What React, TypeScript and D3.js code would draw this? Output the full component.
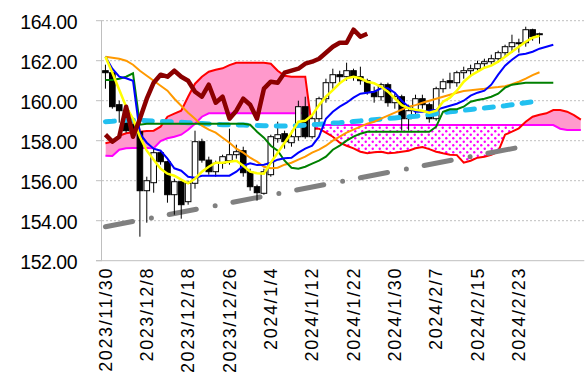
import React from "react";
import * as d3 from "d3";

// ---- categories / ticks ----
const N_SLOTS = 70; // trading-day slots on the x axis (incl. future cloud)
const tickIdx = [0, 6, 12, 18, 24, 30, 36, 42, 48, 54, 60];
const tickLabels = [
  "2023/11/30", "2023/12/8", "2023/12/18", "2023/12/26", "2024/1/4", "2024/1/12",
  "2024/1/22", "2024/1/30", "2024/2/7", "2024/2/15", "2024/2/23",
];
const yTicks = [152, 154, 156, 158, 160, 162, 164];

// ---- candles (index 0..63) ----
const open = [
  161.5, 161.4, 159.8, 159.5, 158.8, 158.45, 155.5, 155.9, 157.4, 156.95,
  155.3, 155.95, 154.95, 155.87, 157.95, 157.03, 156.45, 156.87, 157.0, 157.3,
  157.5, 156.45, 155.7, 155.37, 156.3, 158.1, 158.35, 157.9, 158.2, 159.7,
  158.2, 159.1, 160.1, 160.9, 161.3, 161.2, 161.5, 161.2, 161.0, 160.45,
  160.2, 160.8, 159.9, 160.2, 159.1, 159.5, 160.1, 159.8, 159.1, 160.6,
  161.0, 160.9, 161.4, 161.5, 161.6, 161.85, 161.95, 162.1, 162.4, 162.7,
  162.9, 162.9, 163.55, 163.3,
];
const high = [
  161.8, 161.5, 160.0, 159.6, 159.0, 158.6, 156.2, 157.6, 157.5, 157.0,
  156.1, 156.0, 156.0, 158.5, 158.1, 157.2, 157.0, 157.3, 158.6, 157.8,
  157.7, 156.6, 155.8, 156.6, 158.3, 158.95, 158.5, 158.5, 160.0, 160.2,
  159.3, 160.2, 161.1, 161.6, 161.5, 161.9, 161.6, 161.7, 161.1, 160.7,
  160.9, 160.9, 160.4, 160.3, 159.8, 160.3, 160.3, 159.9, 160.7, 161.1,
  161.4, 161.5, 161.7, 161.8, 162.0, 162.1, 162.3, 162.5, 162.8, 163.3,
  163.1, 163.7, 163.6, 163.4,
];
const low = [
  160.6, 159.6, 158.9, 158.4, 158.2, 153.2, 153.9, 155.4, 156.8, 154.9,
  154.3, 154.1, 154.8, 155.6, 156.9, 156.3, 156.2, 156.6, 156.8, 157.1,
  156.2, 155.5, 155.0, 155.3, 156.2, 157.9, 157.6, 157.7, 158.0, 158.1,
  158.1, 158.9, 159.9, 160.6, 160.9, 161.0, 161.0, 160.8, 160.3, 159.9,
  160.0, 159.7, 159.6, 158.5, 158.5, 159.3, 159.6, 158.9, 159.0, 160.4,
  160.6, 160.7, 161.1, 161.2, 161.4, 161.6, 161.8, 161.9, 162.2, 162.4,
  162.4, 162.7, 163.0, 162.85,
];
const close = [
  161.4, 159.7, 159.5, 158.5, 158.45, 155.5, 156.0, 157.4, 156.95, 155.3,
  155.95, 154.8, 155.87, 157.95, 157.03, 156.45, 156.87, 157.2, 157.3, 157.45,
  156.4, 155.7, 155.4, 156.45, 158.2, 158.3, 157.95, 158.2, 159.7, 158.2,
  159.1, 160.1, 160.9, 161.3, 161.2, 161.5, 161.2, 161.0, 160.45, 160.2,
  160.8, 159.9, 160.2, 159.1, 159.5, 160.1, 159.8, 159.1, 160.6, 160.95,
  160.9, 161.4, 161.5, 161.6, 161.85, 161.95, 162.1, 162.4, 162.7, 162.9,
  162.9, 163.55, 163.2, 163.35,
];
const CHIKOU_SHIFT = 25; // lagging span plotted 26 days back (incl. today)

// ---- lines ----
const ma5 = [ // yellow
  162.2, 161.4, 160.55, 159.7, 159.1, 158.2, 157.5, 157.05, 156.6, 156.35,
  156.25, 156.05, 155.87, 156.1, 156.45, 156.7, 156.9, 156.9, 156.95, 157.0,
  156.75, 156.45, 156.37, 156.35, 156.9, 157.4, 157.9, 158.4, 158.95, 159.0,
  159.28, 159.78, 160.2, 160.53, 160.87, 161.12, 161.2, 161.12, 160.95, 160.87,
  160.7, 160.45, 160.12, 159.78, 159.62, 159.55, 159.5, 159.4, 159.5, 159.95,
  160.15, 160.5, 160.95, 161.25, 161.45, 161.65, 161.75, 161.95, 162.2, 162.45,
  162.7, 162.95, 163.15, 163.25,
];
const tenkan = [ // blue
  162.2, 161.6, 161.2, 161.12, 161.0, 158.35, 157.9, 157.6, 157.5, 157.1,
  156.62, 156.5, 156.2, 156.15, 156.25, 156.25, 156.25, 156.25, 156.25, 156.45,
  156.75, 156.87, 156.78, 156.8, 156.9, 157.05, 157.12, 157.15, 157.4, 157.6,
  157.75, 158.2, 159.1, 159.45, 159.7, 159.9, 160.15, 160.35, 160.4, 160.45,
  160.62, 160.62, 160.4, 160.0, 159.7, 159.45, 159.45, 159.5, 159.55, 159.65,
  159.75, 159.85, 160.0, 160.25, 160.4, 160.5, 160.8, 161.3, 161.75, 162.05,
  162.3, 162.35, 162.45, 162.6, 162.7, 162.8,
];
const kijun = [ // green
  161.03, 161.03, 161.1, 161.2, 161.37, 158.8, 158.85, 158.85, 158.85, 158.85,
  158.85, 158.85, 158.85, 158.85, 158.85, 158.85, 158.85, 158.85, 158.85, 158.85,
  158.85, 158.8, 158.45, 158.15, 157.75, 157.5, 157.0, 156.65, 156.6, 156.7,
  156.85, 157.0, 157.2, 157.55, 157.75, 158.0, 158.2, 158.35, 158.45, 158.45,
  158.45, 158.45, 158.45, 158.45, 158.45, 158.45, 158.45, 158.45, 158.7, 159.45,
  159.57, 159.57, 159.7, 159.95, 160.03, 160.1, 160.2, 160.35, 160.65, 160.8,
  160.85, 160.9, 160.9, 160.9, 160.9, 160.9,
];
const ma25 = [ // orange
  162.2, 162.15, 162.1, 162.0, 161.8, 161.5, 161.25, 161.0, 160.75, 160.5,
  160.1, 159.75, 159.4, 159.1, 158.75, 158.55, 158.4, 158.15, 157.9, 157.6,
  157.4, 157.15, 156.95, 156.7, 156.62, 156.65, 156.8, 156.9, 157.05, 157.2,
  157.4, 157.55, 157.75, 158.0, 158.2, 158.4, 158.55, 158.7, 158.85, 158.95,
  159.1, 159.25, 159.4, 159.55, 159.7, 159.78, 159.9, 160.0, 160.1, 160.2,
  160.3, 160.4, 160.48, 160.52, 160.56, 160.6, 160.65, 160.68, 160.72, 160.82,
  160.95, 161.1, 161.28, 161.42,
];
const ma75 = [ // light blue dashed
  158.95, 158.97, 159.0, 159.02, 159.03, 159.02, 159.0, 158.98, 158.96, 158.95,
  158.94, 158.92, 158.9, 158.88, 158.86, 158.84, 158.82, 158.8, 158.8, 158.79,
  158.78, 158.77, 158.76, 158.75, 158.74, 158.73, 158.73, 158.74, 158.76, 158.78,
  158.8, 158.82, 158.85, 158.88, 158.9, 158.93, 158.96, 158.99, 159.02, 159.05,
  159.08, 159.11, 159.14, 159.17, 159.2, 159.22, 159.26, 159.3, 159.35, 159.4,
  159.45, 159.48, 159.52, 159.56, 159.6, 159.63, 159.67, 159.71, 159.75, 159.8,
  159.85, 159.9, 159.94, 159.97,
];
const spanA = [ // red (leading span 1), index 0..69
  157.87, 157.95, 158.25, 158.37, 158.42, 158.45, 158.48, 158.5, 158.7, 159.2,
  159.35, 159.5, 160.2, 160.85, 161.2, 161.45, 161.55, 161.62, 161.78, 161.9,
  161.9, 161.9, 161.9, 161.9, 161.85, 161.5, 161.25, 161.2, 161.2, 161.2,
  158.6, 158.6, 158.4, 158.2, 157.9, 157.75, 157.62, 157.45, 157.37, 157.42,
  157.45, 157.37, 157.4, 157.45, 157.5, 157.62, 157.68, 157.58, 157.45, 157.37,
  157.3, 157.28, 156.9, 157.0, 157.15, 157.2, 157.3, 157.45, 158.3, 158.45,
  158.62, 158.95, 159.2, 159.3, 159.37, 159.53, 159.53, 159.45, 159.28, 159.05,
];
const spanB = [ // magenta (leading span 2), index 0..69
  157.25, 157.23, 157.55, 157.62, 157.63, 157.64, 157.63, 157.62, 157.98, 158.12,
  158.2, 158.3, 158.55, 158.85, 159.2, 159.37, 159.37, 159.37, 159.37, 159.37,
  159.37, 159.37, 159.37, 159.37, 159.37, 159.37, 159.37, 159.37, 159.37, 159.37,
  158.78, 158.78, 158.78, 158.78, 158.78, 158.78, 158.78, 158.78, 158.78, 158.78,
  158.78, 158.78, 158.78, 158.78, 158.78, 158.78, 158.78, 158.78, 158.78, 158.78,
  158.78, 158.78, 158.78, 158.78, 158.78, 158.78, 158.78, 158.78, 158.78, 158.78,
  158.78, 158.78, 158.78, 158.78, 158.78, 158.78, 158.6, 158.53, 158.53, 158.53,
];
const trendIdx = [0, 62];
const trendVal = [153.7, 157.8];

export default function App() {
  const W = 586, H = 379;
  const left = 102, right = 584.3, top = 20.7, bottom = 260.7;
  const x = d3.scaleBand<number>().domain(d3.range(N_SLOTS)).range([left, right]);
  const cx = (i: number) => (x(i) as number) + x.bandwidth() / 2;
  const y = d3.scaleLinear().domain([152, 164]).range([bottom, top]);

  const line = (arr: number[], offset = 0) =>
    d3.line<number>().x((_, i) => cx(i + offset)).y((d) => y(d))(arr) || "";

  const cloudArea = d3.area<number>()
    .x((i) => cx(i)).y0((i) => y(spanB[i])).y1((i) => y(spanA[i]));
  const idxs = d3.range(spanA.length);
  const aboveB = d3.area<number>().x((i) => cx(i)).y0((i) => y(spanB[i])).y1(0)(idxs) || "";
  const belowB = d3.area<number>().x((i) => cx(i)).y0((i) => y(spanB[i])).y1(H)(idxs) || "";
  const cloudPath = cloudArea(idxs) || "";

  const chikouPts: [number, number][] = close
    .map((c, i) => [i - CHIKOU_SHIFT, c] as [number, number])
    .filter((p) => p[0] >= 0);
  const chikouPath = d3.line<[number, number]>().x((p) => cx(p[0])).y((p) => y(p[1]))(chikouPts) || "";

  const trendPath = d3.line<number>().x((_, k) => cx(trendIdx[k])).y((d) => y(d))(trendVal) || "";

  const bw = 5.6;
  const font = "'Liberation Sans', Arial, sans-serif";

  return (
    <svg width={W} height={H} style={{ position: "absolute", left: 0, top: 0, background: "#fff" }}
      xmlns="http://www.w3.org/2000/svg">
      <defs>
        <pattern id="dots" width={7} height={7} patternUnits="userSpaceOnUse">
          <rect width={7} height={7} fill="#fff" />
          <circle cx={1.75} cy={1.75} r={1.2} fill="#FF00FF" />
          <circle cx={5.25} cy={5.25} r={1.2} fill="#FF00FF" />
        </pattern>
        <clipPath id="clipAbove"><path d={aboveB} /></clipPath>
        <clipPath id="clipBelow"><path d={belowB} /></clipPath>
      </defs>
      <rect width={W} height={H} fill="#fff" />

      {/* gridlines */}
      {yTicks.map((t) => (
        <g key={t}>
          {t !== 152 && (
            <line x1={left} x2={right} y1={y(t)} y2={y(t)} stroke="#BFBFBF" strokeWidth={1}
              strokeDasharray="2,2" />
          )}
          <line x1={96} x2={left} y1={y(t)} y2={y(t)} stroke="#BFBFBF" strokeWidth={1} />
          <text x={77} y={y(t) + 8.3} textAnchor="end" fontFamily={font} fontSize={19.5}
            letterSpacing={-0.5} fill="#000">{t.toFixed(2)}</text>
        </g>
      ))}
      <line x1={96} x2={right} y1={bottom} y2={bottom} stroke="#BFBFBF" strokeWidth={1} />
      <line x1={101.5} x2={101.5} y1={top} y2={bottom} stroke="#BFBFBF" strokeWidth={1} />

      {/* cloud */}
      <path d={cloudPath} fill="#FF99CC" clipPath="url(#clipAbove)" />
      <path d={cloudPath} fill="url(#dots)" clipPath="url(#clipBelow)" />
      <path d={line(spanB)} fill="none" stroke="#FF00FF" strokeWidth={2} />
      <path d={line(spanA)} fill="none" stroke="#FF0000" strokeWidth={2} />

      {/* trend line */}
      <path d={trendPath} fill="none" stroke="#808080" strokeWidth={5} strokeLinecap="round"
        strokeDasharray="27.6 19.2 0 18.1" />

      {/* candles */}
      {close.map((c, i) => {
        const o = open[i];
        const up = c >= o;
        const yTop = y(Math.max(o, c));
        const h = Math.max(1, Math.abs(y(o) - y(c)));
        return (
          <g key={i}>
            <line x1={cx(i)} x2={cx(i)} y1={y(high[i])} y2={y(low[i])} stroke="#000" strokeWidth={1} />
            <rect x={cx(i) - bw / 2} y={yTop} width={bw} height={h}
              fill={up ? "#fff" : "#000"} stroke="#000" strokeWidth={1} />
          </g>
        );
      })}

      {/* moving averages etc */}
      <path d={line(ma75)} fill="none" stroke="#22C0F0" strokeWidth={5} strokeLinecap="round"
        strokeDasharray="9 10" />
      <path d={line(ma25)} fill="none" stroke="#FF9900" strokeWidth={2} />
      <path d={line(kijun)} fill="none" stroke="#008000" strokeWidth={2} />
      <path d={line(tenkan)} fill="none" stroke="#0000FF" strokeWidth={2} />
      <path d={line(ma5)} fill="none" stroke="#FFFF00" strokeWidth={2.5} />
      <path d={chikouPath} fill="none" stroke="#8B0000" strokeWidth={4.5} strokeLinejoin="round" />

      {/* x labels */}
      {tickIdx.map((ti, k) => (
        <text key={ti} transform={`translate(${cx(ti)},267) rotate(-90)`} textAnchor="end" dy="0.35em"
          fontFamily={font} fontSize={18} letterSpacing={1.6} fill="#000">{tickLabels[k]}</text>
      ))}
    </svg>
  );
}
